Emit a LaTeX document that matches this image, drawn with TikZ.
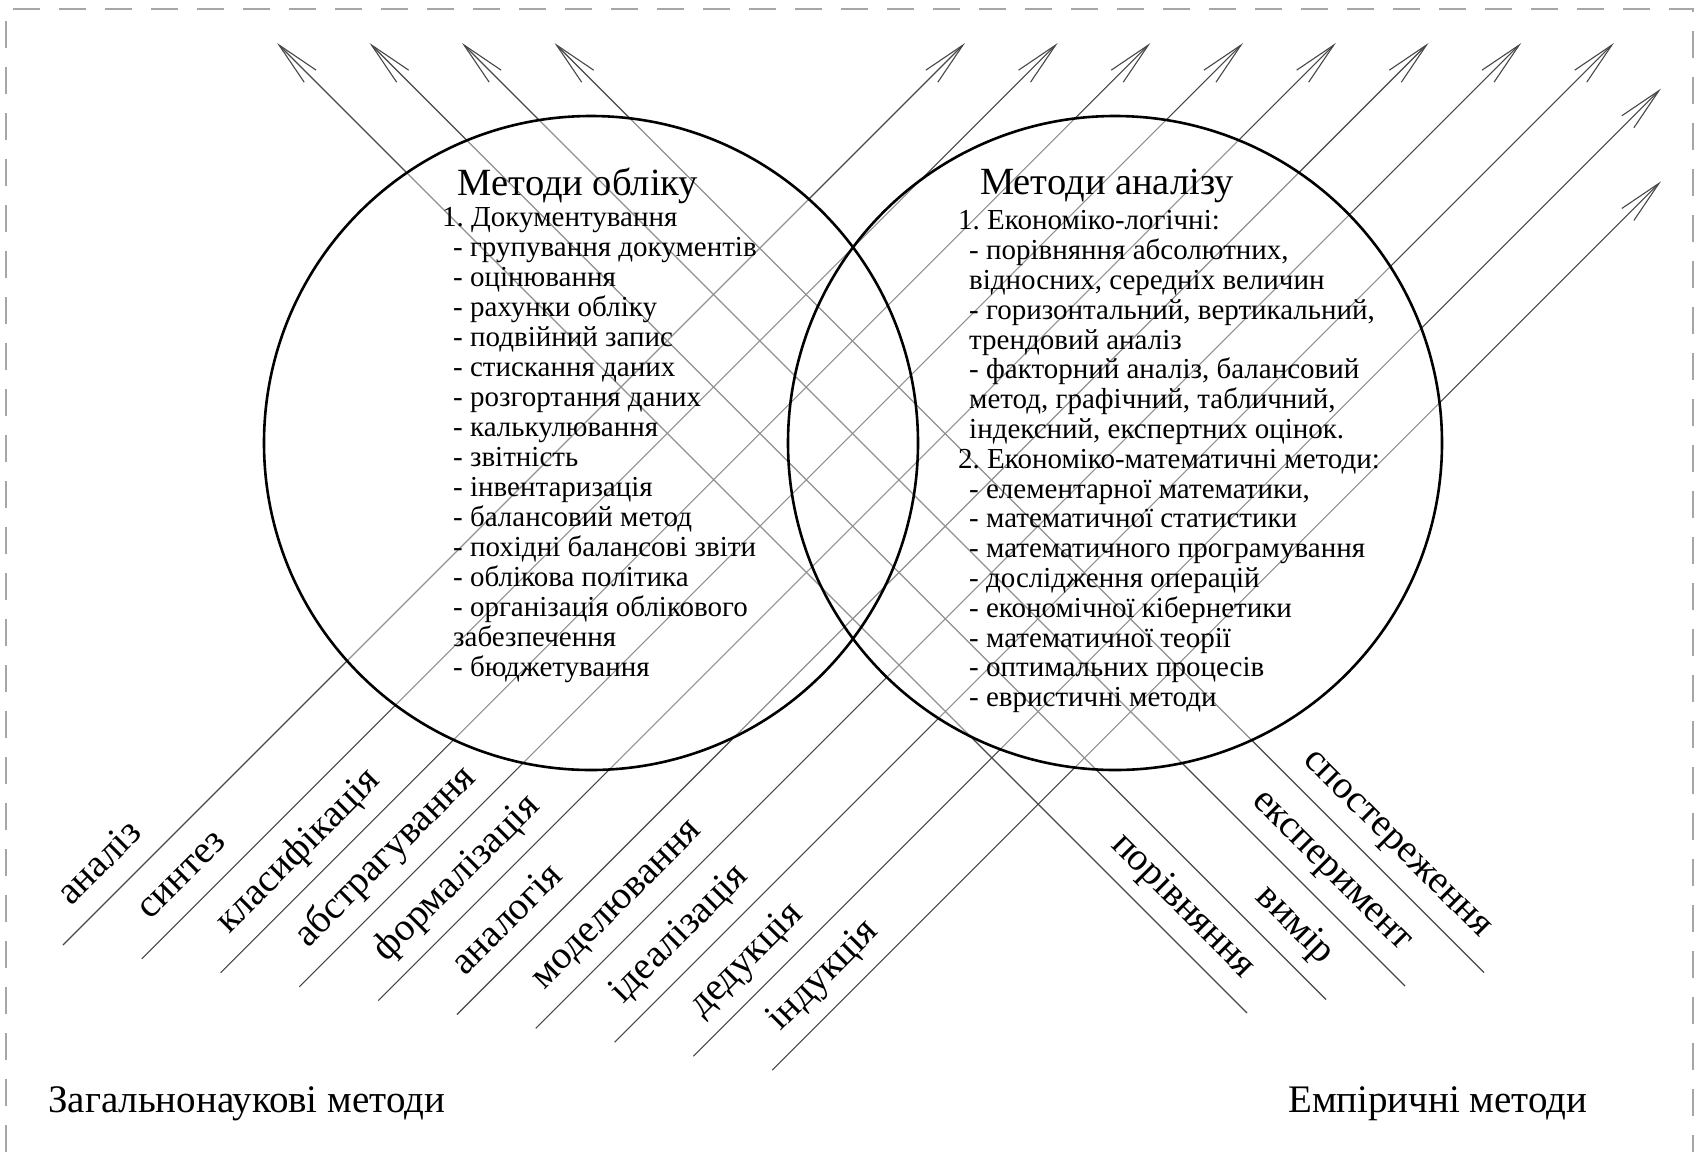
\documentclass[tikz,border=0pt]{standalone}
\usepackage{fontspec}
\setmainfont{Liberation Serif}
\usetikzlibrary{arrows.meta}
\newcommand\myind{\hspace*{11pt}}
\frenchspacing
\begin{document}
\begin{tikzpicture}[x=1pt,y=-1pt,
  arr/.style={draw=black!72, line width=1.1pt, -{Straight Barb[length=44pt,width=17pt,line width=1.1pt]}},
  ring/.style={draw=black, line width=2.6pt, circle, minimum size=654pt, inner sep=0pt, outer sep=0pt},
  lbl/.style={font=\fontsize{39}{39}\selectfont, inner sep=0pt},
  body/.style={font=\fontsize{29}{30}\selectfont, align=left, inner sep=0pt, anchor=north west},
  ttl/.style={font=\fontsize{38.5}{38.5}\selectfont, inner sep=0pt, anchor=base},
  foot/.style={font=\fontsize{39}{39}\selectfont, inner sep=0pt, anchor=base west}]
\useasboundingbox (0,0) rectangle (1695,1152);
\fill[white] (0,0) rectangle (1695,1152);
\draw[black!35, line width=2pt, dash pattern=on 27pt off 19pt] (6,1152) -- (6,9) -- (1693,9) -- (1693,1152);

% general scientific methods (north-east arrows)
\foreach \i/\t in {0/аналіз,1/синтез,2/класифікація,3/абстрагування,4/формалізація,5/аналогія,6/моделювання,7/ідеалізація,8/дедукція,9/індукція}{
  \pgfmathsetmacro\sx{63+78.8*\i}
  \pgfmathsetmacro\sy{945+13.9*\i}
  \pgfmathsetmacro\hx{min(965+92.7*\i,1661)}
  \pgfmathsetmacro\hy{1008+92.7*\i-\hx}
  \coordinate (nes\i) at (\sx,\sy);
  \coordinate (neh\i) at (\hx,\hy);
  \draw[arr] (nes\i) -- (neh\i);
  \node[lbl, rotate=45, anchor=base west] (nel\i) at ([shift={(8.5,-38.1)}]nes\i) {\t};
}
% empirical methods (north-west arrows)
\foreach \j/\t in {0/порівняння,1/вимір,2/експеримент,3/спостереження}{
  \pgfmathsetmacro\ex{1247+79*\j}
  \pgfmathsetmacro\ey{1013-13.5*\j}
  \pgfmathsetmacro\hx{277+92.5*\j}
  \coordinate (nwe\j) at (\ex,\ey);
  \coordinate (nwh\j) at (\hx,43);
  \draw[arr] (nwe\j) -- (nwh\j);
  \node[lbl, rotate=-45, anchor=base east] (nwl\j) at ([shift={(-4.2,-34)}]nwe\j) {\t};
}

\fill[white, fill opacity=0.4] (591,443) circle (327pt) (1115,443) circle (327pt);
\node[ring] (uc) at (591,443) {};
\node[ring] (ac) at (1115,443) {};

\node[ttl] (ut) at (578,195) {Методи обліку};
\node[ttl] (at) at (1107,194) {Методи аналізу};

\node[body] (ub) at (442,207.4) {1. Документування\\
\myind- групування документів\\
\myind- оцінювання\\
\myind- рахунки обліку\\
\myind- подвійний запис\\
\myind- стискання даних\\
\myind- розгортання даних\\
\myind- калькулювання\\
\myind- звітність\\
\myind- інвентаризація\\
\myind- балансовий метод\\
\myind- похідні балансові звіти\\
\myind- облікова політика\\
\myind- організація облікового\\
\myind забезпечення\\
\myind- бюджетування};

\node[body, font=\fontsize{29}{29.8}\selectfont] (ab) at (958,210.4) {1. Економіко-логічні:\\
\myind- порівняння абсолютних,\\
\myind відносних, середніх величин\\
\myind- горизонтальний, вертикальний,\\
\myind трендовий аналіз\\
\myind- факторний аналіз, балансовий\\
\myind метод, графічний, табличний,\\
\myind індексний, експертних оцінок.\\
2. Економіко-математичні методи:\\
\myind- елементарної математики,\\
\myind- математичної статистики\\
\myind- математичного програмування\\
\myind- дослідження операцій\\
\myind- економічної кібернетики\\
\myind- математичної теорії\\
\myind- оптимальних процесів\\
\myind- евристичні методи};

\node[foot] (lf) at (48,1112) {Загальнонаукові методи};
\node[foot] (rf) at (1288,1112) {Емпіричні методи};
\end{tikzpicture}
\end{document}
